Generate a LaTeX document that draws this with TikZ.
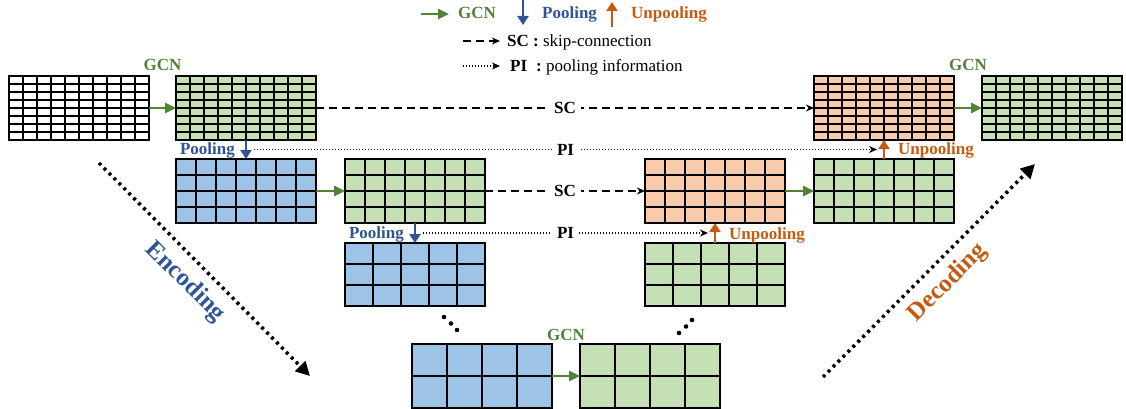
\documentclass[tikz,border=0pt]{standalone}
\usepackage{fontspec}
\setmainfont{Liberation Serif}
\usetikzlibrary{arrows.meta,positioning,calc}
\definecolor{GCNGreen}{HTML}{548235}
\definecolor{PoolBlue}{HTML}{2F5597}
\definecolor{UnpoolOrange}{HTML}{C55A11}
\definecolor{CellGreen}{HTML}{C5E0B4}
\definecolor{CellBlue}{HTML}{9DC3E6}
\definecolor{CellOrange}{HTML}{F8CBAD}
\newcommand{\fmapcells}[3]{%
  \pgfmathtruncatemacro{\gcols}{#2-1}%
  \pgfmathtruncatemacro{\grows}{#3-1}%
  \foreach \i in {1,...,\gcols}
    \draw[line width=2pt] ($(#1.south west)!\i/#2!(#1.south east)$) -- ($(#1.north west)!\i/#2!(#1.north east)$);
  \foreach \j in {1,...,\grows}
    \draw[line width=2pt] ($(#1.south west)!\j/#3!(#1.north west)$) -- ($(#1.south east)!\j/#3!(#1.north east)$);
}

\begin{document}
\begin{tikzpicture}[x=1pt,y=-1pt,
  fmap/.style={draw,line width=2.6pt,minimum width=140pt,minimum height=64pt,inner sep=0pt,outer sep=0pt},
  gcn/.style={-{Triangle[length=11pt,width=10pt]},line width=2.5pt,GCNGreen},
  pool/.style={-{Triangle[length=9pt,width=11pt]},line width=2.5pt,PoolBlue},
  unpool/.style={-{Triangle[length=9pt,width=11pt]},line width=2.5pt,UnpoolOrange},
  sc/.style={-{Stealth[length=8pt,width=7pt,inset=2.5pt]},line width=1.5pt,dash pattern=on 8pt off 5pt},
  pinfo/.style={-{Stealth[length=8pt,width=7pt,inset=2.5pt]},line width=1.3pt,dash pattern=on 1.3pt off 1.7pt},
  trend/.style={-{Triangle[length=14pt,width=14pt]},line width=3.5pt,dash pattern=on 3pt off 4pt},
  lbl/.style={font=\fontsize{17}{20}\selectfont\bfseries,inner sep=0pt},
  onl/.style={lbl,fill=white,inner xsep=5pt,inner ysep=1pt},
  legtext/.style={font=\fontsize{17}{20}\selectfont,inner sep=0pt,anchor=base west},
  stage/.style={font=\fontsize{25}{30}\selectfont\bfseries,inner sep=0pt},
]
\useasboundingbox (0,0) rectangle (1126,409);

% legend
\coordinate (lgA) at (421,14);
\coordinate (lgB) at (449,14);
\draw[gcn] (lgA) -- (lgB);
\node[lbl,text=GCNGreen,anchor=base west] (lgGCN) at (458,18.5) {GCN};
\coordinate (lgC) at (523,0);
\coordinate (lgD) at (523,25);
\draw[pool] (lgC) -- (lgD);
\node[lbl,text=PoolBlue,anchor=base west] (lgPool) at (542,18.5) {Pooling};
\coordinate (lgE) at (612,27);
\coordinate (lgF) at (612,2);
\draw[unpool] (lgE) -- (lgF);
\node[lbl,text=UnpoolOrange,anchor=base west] (lgUnpool) at (631,18.5) {Unpooling};
\coordinate (lgG) at (463,41);
\coordinate (lgH) at (500,41);
\draw[sc] (lgG) -- (lgH);
\node[legtext] (lgSC) at (507,46.5) {\textbf{SC :} skip-connection};
\coordinate (lgI) at (463,66);
\coordinate (lgJ) at (500,66);
\draw[pinfo] (lgI) -- (lgJ);
\node[legtext] (lgPI) at (510,71.5) {\textbf{PI\hspace{9pt}:} pooling information};

% encoder
\node[fmap,fill=white] (in0) at (79,108) {};
\node[fmap,fill=CellGreen,right=27pt of in0] (e0) {};
\node[fmap,fill=CellBlue,below=19pt of e0] (p1) {};
\node[fmap,fill=CellGreen,right=29pt of p1] (e1) {};
\node[fmap,fill=CellBlue,minimum height=63pt,below=20pt of e1] (p2) {};
\node[fmap,fill=CellBlue] (p3) at (482,376) {};
\node[fmap,fill=CellGreen,right=28pt of p3] (b3) {};

% decoder
\node[fmap,fill=CellGreen,minimum height=63pt] (d2) at (715,274.5) {};
\node[fmap,fill=CellOrange,above=20pt of d2] (u1) {};
\node[fmap,fill=CellGreen,right=29pt of u1] (d1) {};
\node[fmap,fill=CellOrange,above=19pt of d1] (u0) {};
\node[fmap,fill=CellGreen,right=28pt of u0] (out0) {};

\foreach \m/\cc/\rr in {in0/10/8,e0/10/8,p1/7/4,e1/7/4,p2/5/3,p3/4/2,b3/4/2,d2/5/3,u1/7/4,d1/7/4,u0/10/8,out0/10/8}
  {\fmapcells{\m}{\cc}{\rr}}

\draw[gcn] (in0) -- (e0);
\draw[gcn] (p1) -- (e1);
\draw[gcn] (p3) -- (b3);
\draw[gcn] (u1) -- (d1);
\draw[gcn] (u0) -- (out0);
\node[lbl,text=GCNGreen,anchor=base] at ($(in0.north east)!0.5!(e0.north west)+(0,-5)$) {GCN};
\node[lbl,text=GCNGreen,anchor=base] at ($(u0.north east)!0.5!(out0.north west)+(0,-5)$) {GCN};
\node[lbl,text=GCNGreen,anchor=base] at ($(p3.north east)!0.5!(b3.north west)+(0,-4)$) {GCN};

\draw[pool] (e0) -- (p1);
\draw[pool] (e1) -- (p2);
\draw[unpool] (d1) -- (u0);
\draw[unpool] (d2) -- (u1);
\coordinate (m0) at ($(e0.south)!0.5!(p1.north)$);
\coordinate (m1) at ($(e1.south)!0.5!(p2.north)$);
\coordinate (n0) at ($(d1.north)!0.5!(u0.south)$);
\coordinate (n1) at ($(d2.north)!0.5!(u1.south)$);
\node[lbl,text=PoolBlue,anchor=base east] at ([xshift=-11pt,yshift=-5pt]m0) {Pooling};
\node[lbl,text=PoolBlue,anchor=base east] at ([xshift=-11pt,yshift=-5.5pt]m1) {Pooling};
\node[lbl,text=UnpoolOrange,anchor=base west] at ([xshift=14pt,yshift=-5pt]n0) {Unpooling};
\node[lbl,text=UnpoolOrange,anchor=base west] at ([xshift=14pt,yshift=-6pt]n1) {Unpooling};

\draw[sc] (e0) -- node[onl]{SC} (u0);
\draw[sc] (e1) -- node[onl]{SC} (u1);
\draw[pinfo] ([xshift=8pt]m0) -- node[onl]{PI} ([xshift=-7pt]n0);
\draw[pinfo] ([xshift=8pt]m1) -- node[onl]{PI} ([xshift=-7pt]n1);

\foreach \px/\py in {444/317,451/323.5,457/330}
  \fill (\px,\py) circle (2.3pt);
\foreach \px/\py in {679/333,686/326.5,692/320}
  \fill (\px,\py) circle (2.3pt);

% encoding / decoding
\coordinate (encA) at (99,163);
\coordinate (encB) at (310,376);
\draw[trend] (encA) -- (encB);
\node[stage,text=PoolBlue,rotate=-45] (encL) at (185,282) {Encoding};
\coordinate (decA) at (823,377);
\coordinate (decB) at (1035,164);
\draw[trend] (decA) -- (decB);
\node[stage,text=UnpoolOrange,rotate=45] (decL) at (948,283) {Decoding};
\end{tikzpicture}
\end{document}
